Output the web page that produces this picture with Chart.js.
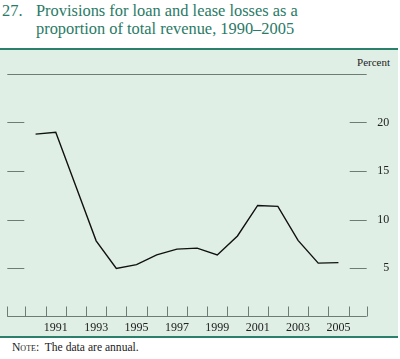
<!DOCTYPE html>
<html>
<head>
<meta charset="utf-8">
<script src="https://cdn.jsdelivr.net/npm/chart.js@4/dist/chart.umd.min.js"></script>
<style>
  html, body { margin: 0; padding: 0; background: #ffffff; }
  #wrap { position: relative; width: 400px; height: 359px; overflow: hidden; font-family: "Liberation Serif", "Times New Roman", serif; }
  .title { position: absolute; color: #2a7a66; font-size: 16.4px; line-height: 18px; white-space: nowrap; }
  #panel { position: absolute; left: 0; top: 48px; width: 398px; height: 286px; background: #dfefe5; border-top: 2px solid #2b806c; border-bottom: 2px solid #2b806c; }
  #pct { position: absolute; top: 56px; right: 10px; font-size: 11px; color: #222; }
  #note { position: absolute; left: 12px; top: 341px; font-size: 11.6px; color: #222; white-space: nowrap; }
  #note .sc { font-variant: small-caps; }
  canvas { position: absolute; left: 0; top: 0; }
</style>
</head>
<body>
<div id="wrap">
  <div class="title" style="left:2px; top:2px;">27.</div>
  <div class="title" style="left:36px; top:2px;">Provisions for loan and lease losses as a<br>proportion of total revenue, 1990–2005</div>
  <div id="panel"></div>
  <div id="pct">Percent</div>
  <div id="note"><span class="sc">Note</span>:&nbsp; The data are annual.</div>
  <canvas id="c" width="400" height="359"></canvas>
</div>
<script>
// ---- data ----
const years = [1990, 1991, 1992, 1993, 1994, 1995, 1996, 1997, 1998, 1999, 2000, 2001, 2002, 2003, 2004, 2005];
const provisions = [18.8, 19.0, 13.4, 7.8, 4.95, 5.35, 6.35, 6.95, 7.05, 6.35, 8.3, 11.45, 11.35, 7.85, 5.5, 5.55];
const yTickValues = [5, 10, 15, 20];
const xLabelYears = [1991, 1993, 1995, 1997, 1999, 2001, 2003, 2005];
const xTickMarks = [1988.6, 1989.5, 1990.5, 1991.5, 1992.5, 1993.5, 1994.5, 1995.5, 1996.5, 1997.5, 1998.5, 1999.5, 2000.5, 2001.5, 2002.5, 2003.5, 2004.5, 2005.5, 2006.4];

const TICK_COLOR = '#6d7d75';

const shortTicks = {
  id: 'shortTicks',
  beforeDatasetsDraw(chart) {
    const { ctx, chartArea: a, scales: { x, y } } = chart;
    ctx.save();
    ctx.strokeStyle = TICK_COLOR;
    ctx.lineWidth = 1;
    const yt = Math.round(y.getPixelForValue(25)) + 0.5;
    ctx.beginPath(); ctx.moveTo(a.left, yt); ctx.lineTo(a.right, yt); ctx.stroke();
    yTickValues.forEach(v => {
      const py = Math.round(y.getPixelForValue(v)) + 0.5;
      ctx.beginPath();
      ctx.moveTo(a.left, py); ctx.lineTo(a.left + 17, py);
      ctx.moveTo(a.right - 17, py); ctx.lineTo(a.right, py);
      ctx.stroke();
    });
    const yb = Math.round(y.getPixelForValue(0)) - 0.5;
    ctx.beginPath(); ctx.moveTo(a.left, yb); ctx.lineTo(a.right, yb); ctx.stroke();
    xTickMarks.forEach(v => {
      const px = Math.round(x.getPixelForValue(v)) + 0.5;
      ctx.beginPath(); ctx.moveTo(px, yb); ctx.lineTo(px, yb - 10); ctx.stroke();
    });
    ctx.restore();
  }
};

new Chart(document.getElementById('c'), {
  type: 'line',
  data: {
    datasets: [{
      data: years.map((yr, i) => ({ x: yr, y: provisions[i] })),
      borderColor: '#111111',
      borderWidth: 1.4,
      pointRadius: 0,
      tension: 0,
      fill: false
    }]
  },
  options: {
    responsive: false,
    animation: false,
    devicePixelRatio: 1,
    layout: { padding: { left: 7.3, right: 10.7, top: 74, bottom: 0 } },
    plugins: { legend: { display: false }, tooltip: { enabled: false }, title: { display: false } },
    scales: {
      x: {
        type: 'linear',
        min: 1988.6,
        max: 2006.4,
        afterBuildTicks(s) { s.ticks = xLabelYears.map(v => ({ value: v })); },
        afterFit(s) { s.height = 42.5; },
        grid: { display: false, drawTicks: false },
        border: { display: false },
        ticks: {
          autoSkip: false,
          maxRotation: 0,
          padding: 4,
          color: '#222',
          font: { family: '"Liberation Serif", "Times New Roman", serif', size: 12 },
          callback: v => String(v)
        }
      },
      y: {
        position: 'right',
        min: 0,
        max: 25,
        afterBuildTicks(s) { s.ticks = yTickValues.map(v => ({ value: v })); },
        afterFit(s) { s.width = 22.6; },
        grid: { display: false, drawTicks: false },
        border: { display: false },
        ticks: {
          crossAlign: 'far',
          padding: 0,
          color: '#222',
          font: { family: '"Liberation Serif", "Times New Roman", serif', size: 12 },
          callback: v => String(v)
        }
      }
    }
  },
  plugins: [shortTicks]
});
</script>
</body>
</html>
